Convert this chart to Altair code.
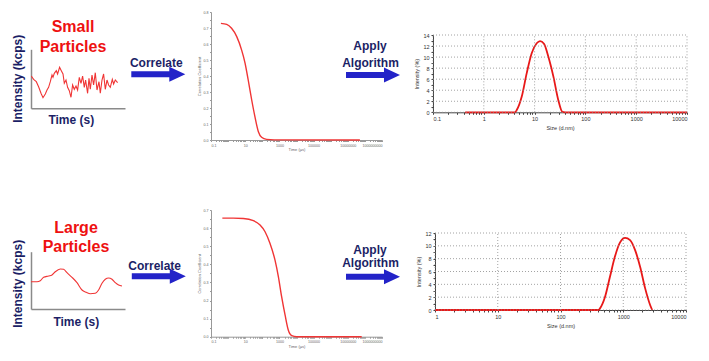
import altair as alt
import pandas as pd

FONT = "Liberation Sans"
RED = "#ee1111"
LINE_RED = "#f03535"
NAVY = "#1c1f66"
BLUE = "#2323c8"
AXGRAY = "#8a8a8a"

# ---------------- data ----------------
small_time = [0.3, 2.6, 5.3, 7.6, 10.0, 12.0, 14.3, 16.0, 17.6, 19.3, 21.0, 22.0, 23.3, 25.3, 26.6,
              28.6, 30.3, 32.0, 33.3, 35.0, 36.6, 38.3, 40.0, 41.6, 43.3, 45.0, 46.6, 48.3, 50.0, 51.6,
              53.3, 54.6, 56.6, 58.0, 59.3, 61.0, 62.6, 64.3, 66.0, 68.0, 69.3, 71.0, 72.6, 74.3, 76.0,
              77.6, 79.3, 81.3, 82.6, 84.3, 86.6]
small_int = [32.3, 29.0, 26.6, 21.6, 15.0, 10.6, 14.3, 18.3, 21.0, 26.6, 33.3, 31.0, 35.0, 37.6, 34.3,
             41.0, 37.6, 34.3, 25.0, 28.3, 21.0, 17.6, 11.0, 23.3, 19.0, 22.3, 18.3, 31.0, 25.0, 32.3,
             21.0, 28.3, 15.0, 30.0, 19.0, 33.3, 23.3, 35.6, 18.3, 26.6, 15.0, 28.3, 34.3, 19.0, 28.3,
             23.3, 21.0, 29.0, 24.3, 28.3, 25.6]

large_time = [0, 6.0, 9.3, 12.6, 17.6, 21.0, 24.3, 29.3, 32.6, 36.0, 41.0, 46.0, 51.0, 55.3, 59.3,
              64.3, 67.6, 71.0, 74.3, 77.6, 81.0, 84.3, 87.6, 91.0]
large_int = [27.3, 27.3, 28.3, 31.7, 33.0, 34.0, 37.3, 40.0, 39.7, 36.3, 31.7, 26.3, 19.0, 16.7, 15.3,
             15.7, 19.0, 25.7, 29.7, 31.0, 29.7, 26.3, 24.0, 23.0]

corr_small_tau = [0.38, 0.83, 1.6, 3.2, 6.2, 9.8, 15, 24, 37, 59, 91, 180, 500, 5.1e7]
corr_small_g = [0.729, 0.723, 0.698, 0.646, 0.562, 0.481, 0.375, 0.25, 0.146, 0.052, 0.017, 0.004, 0.001, 0.0]

corr_large_tau = [0.46, 2.0, 7.8, 30, 74, 145, 280, 550, 870, 1350, 2140, 3300, 5250, 10200, 6.5e7]
corr_large_g = [0.655, 0.655, 0.653, 0.641, 0.617, 0.580, 0.516, 0.424, 0.332, 0.221, 0.120, 0.037,
                0.006, 0.0, 0.0]

size_small_d = [0.43, 4.1, 4.45, 5.57, 7.0, 8.77, 11.0, 12.8, 15.3, 18.6, 23.4, 29.3, 35.1, 40, 10000]
size_small_i = [0, 0, 0.4, 2.8, 7.1, 10.7, 12.5, 12.9, 12.4, 10.1, 6.5, 2.2, 0.1, 0, 0]

size_large_d = [1, 400, 426, 513, 614, 735, 885, 1070, 1285, 1550, 1860, 2235, 2680, 2890]
size_large_i = [0, 0, 0.26, 2.06, 5.17, 8.28, 10.5, 11.25, 10.9, 9.3, 6.7, 3.37, 0.78, 0]

# tick positions
corr_x_ticks = [m * 10.0 ** e for e in range(-1, 9) for m in range(1, 10)] + [1e9]
corr_y_small = [0, 0.05, 0.1, 0.15, 0.2, 0.25, 0.3, 0.35, 0.4, 0.45, 0.5, 0.55, 0.6, 0.65, 0.7, 0.75, 0.8]
corr_y_large = [0, 0.05, 0.1, 0.15, 0.2, 0.25, 0.3, 0.35, 0.4, 0.45, 0.5, 0.55, 0.6, 0.65, 0.7]
size_x_small = [0.1, 1, 10, 100, 1000, 10000]
size_x_large = [1, 10, 100, 1000, 10000]
size_y_small = [0, 2, 4, 6, 8, 10, 12, 14]
size_y_large = [0, 2, 4, 6, 8, 10, 12]

W, H = 680, 330
ONE = pd.DataFrame({"k": [0]})

DECADE = "abs(log(datum.value)/LN10 - round(log(datum.value)/LN10)) < 0.001"


def txt(s, x, y, size, color, weight="bold"):
    return alt.Chart(pd.DataFrame({"s": [s]})).mark_text(
        font=FONT, fontSize=size, fontWeight=weight, color=color,
        align="center", baseline="alphabetic").encode(
        x=alt.value(x), y=alt.value(y), text="s:N")


ARROW = "M-1,-0.111L0.407,-0.111L0.407,-0.278L1,0L0.407,0.278L0.407,0.111L-1,0.111Z"


def arrow(cx, cy):
    return alt.Chart(ONE).mark_point(shape=ARROW, size=2916, filled=True, fill=BLUE,
                                     opacity=1, strokeWidth=0).encode(
        x=alt.value(cx), y=alt.value(cy))


def trace_panel(t, inten, xr, yr, interp, tx, ty, yty):
    df = pd.DataFrame({"t": t, "I": inten})
    return alt.Chart(df).mark_line(color=LINE_RED, strokeWidth=1.1, interpolate=interp).encode(
        x=alt.X("t:Q", scale=alt.Scale(domain=[0, xr[1] - xr[0]], range=xr, nice=False, zero=False),
                axis=alt.Axis(orient="bottom", offset=yr[0] - H, title="Time (s)", labels=False,
                              ticks=False, grid=False, domainColor=AXGRAY, domainWidth=1.5,
                              titleFont=FONT, titleFontSize=12, titleFontWeight="bold",
                              titleColor=NAVY, titleX=tx, titleY=ty,
                              titleBaseline="alphabetic", titleAlign="center")),
        y=alt.Y("I:Q", scale=alt.Scale(domain=[0, yr[0] - yr[1]], range=yr, nice=False, zero=False),
                axis=alt.Axis(orient="left", offset=-xr[0], title="Intensity (kcps)", labels=False,
                              ticks=False, grid=False, domainColor=AXGRAY, domainWidth=1.5,
                              titleFont=FONT, titleFontSize=12, titleFontWeight="bold",
                              titleColor=NAVY, titleAngle=270, titleX=-9.3, titleY=yty,
                              titleBaseline="alphabetic", titleAlign="center")),
    )


def corr_panel(tau, g, xr, yr, ymax, yvals):
    df = pd.DataFrame({"tau": tau, "g": g})
    common = dict(labelFont=FONT, titleFont=FONT, labelFontSize=3.6, titleFontSize=4,
                  labelColor="#666", titleColor="#666", domainColor="#999", tickColor="#999",
                  tickSize=1.5, labelPadding=1.5, grid=False, titleFontWeight="normal",
                  labelOverlap=False)
    return alt.Chart(df).mark_line(color=LINE_RED, strokeWidth=1.4, interpolate="monotone").encode(
        x=alt.X("tau:Q", scale=alt.Scale(type="log", domain=[0.1, 1e9], range=xr, nice=False),
                axis=alt.Axis(orient="bottom", offset=yr[0] - H, values=corr_x_ticks, format="~f",
                              labelExpr="(" + DECADE + ") && round(log(datum.value)/LN10) % 2 != 0 ? datum.label : ''",
                              title="Time (µs)", titlePadding=1, **common)),
        y=alt.Y("g:Q", scale=alt.Scale(domain=[0, ymax], range=yr, nice=False, zero=True),
                axis=alt.Axis(orient="left", offset=-xr[0], values=yvals, format=".1f",
                              labelExpr="round(datum.value*100) % 10 == 0 ? datum.label : ''",
                              title="Correlation Coefficient", titlePadding=2, **common)),
    )


def size_panel(d, inten, xr, yr, xdom, xvals, ymax, yvals):
    df = pd.DataFrame({"d": d, "I": inten})
    xs = alt.Scale(type="log", domain=xdom, range=xr, nice=False)
    ys = alt.Scale(domain=[0, ymax], range=yr, nice=False, zero=True)
    common = dict(labelFont=FONT, titleFont=FONT, labelFontSize=5.5, titleFontSize=5.5,
                  labelColor="#333", titleColor="#333", domainColor="#444", tickColor="#444",
                  tickSize=2, labelPadding=2, grid=False, titleFontWeight="normal",
                  labelOverlap=False)
    xminor = [m * v for v in xvals[:-1] for m in range(1, 10)] + [xvals[-1]]
    yminor = [v for v in range(0, ymax + 1)]
    ax_x = alt.Axis(orient="bottom", offset=yr[0] - H, values=xminor, format="~f",
                    labelExpr=DECADE + " ? datum.label : ''",
                    title="Size (d.nm)", titlePadding=4, **common)
    ax_y = alt.Axis(orient="left", offset=-xr[0], values=yminor, format="d",
                    labelExpr="datum.value % 2 == 0 ? datum.label : ''",
                    title="Intensity (%)", titlePadding=3, **common)
    line = alt.Chart(df).mark_line(color="#e81818", strokeWidth=1.8, interpolate="monotone").encode(
        x=alt.X("d:Q", scale=xs, axis=ax_x),
        y=alt.Y("I:Q", scale=ys, axis=ax_y),
    )
    gridx = alt.Chart(pd.DataFrame({"d": xvals})).mark_rule(
        color="#8c8c8c", strokeWidth=0.8, strokeDash=[1, 2]).encode(
        x=alt.X("d:Q", scale=xs, axis=ax_x),
        y=alt.Y(datum=0, scale=ys, axis=ax_y), y2=alt.Y2(datum=ymax))
    gridy = alt.Chart(pd.DataFrame({"I": yvals})).mark_rule(
        color="#8c8c8c", strokeWidth=0.8, strokeDash=[1, 2]).encode(
        y=alt.Y("I:Q", scale=ys, axis=ax_y),
        x=alt.X(datum=xdom[0], scale=xs, axis=ax_x), x2=alt.X2(datum=xdom[1]))
    return alt.layer(line, gridx, gridy)


# ---------------- panels ----------------
panelA = trace_panel(small_time, small_int, [23, 117], [100.3, 41.3], "linear", 62.8, 15.3, 70.3)
panelD = trace_panel(large_time, large_int, [23, 117], [301, 243.7], "monotone", 67.8, 16.3, 275.3)
panelB = corr_panel(corr_small_tau, corr_small_g, [203, 374], [132, 4], 0.8, corr_y_small)
panelE = corr_panel(corr_large_tau, corr_large_g, [203, 374], [328.7, 202], 0.7, corr_y_large)
panelC = size_panel(size_small_d, size_small_i, [425, 679], [104.3, 27], [0.1, 10000],
                    size_x_small, 14, size_y_small)
panelF = size_panel(size_large_d, size_large_i, [427, 678], [302, 225], [1, 10000],
                    size_x_large, 12, size_y_large)

decor = [
    txt("Small", 65, 23.5, 16, RED), txt("Particles", 65, 43.5, 16, RED),
    txt("Large", 68, 225.2, 16, RED), txt("Particles", 68, 243.5, 16, RED),
    arrow(150.3, 66.2), txt("Correlate", 148.3, 58.9, 12, NAVY),
    arrow(150.8, 268.3), txt("Correlate", 146.7, 262.3, 12, NAVY),
    arrow(365, 67), txt("Apply", 362, 42.3, 12, NAVY), txt("Algorithm", 362.5, 58.9, 12, NAVY),
    arrow(365, 268.7), txt("Apply", 362, 245.6, 12, NAVY), txt("Algorithm", 362.5, 258.9, 12, NAVY),
]

chart = alt.layer(panelA, panelD, panelB, panelE, panelC, panelF, *decor).resolve_scale(
    x="independent", y="independent"
).properties(width=W, height=H, padding=0, background="white").configure_view(stroke="transparent")

chart.save("out.html", embed_options={"renderer": "svg", "actions": False})
